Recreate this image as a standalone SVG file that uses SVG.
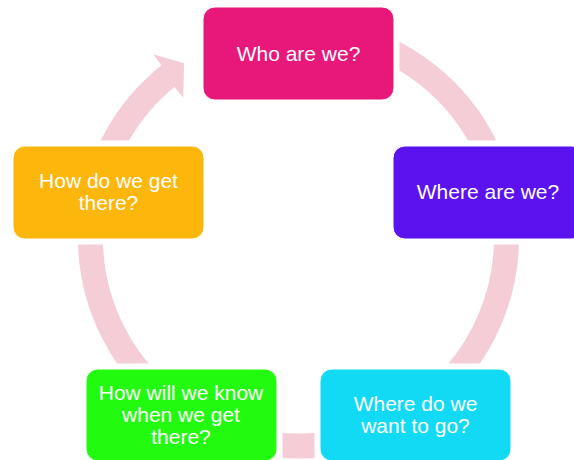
<svg xmlns="http://www.w3.org/2000/svg" width="574" height="460" viewBox="0 0 574 460">
  <style>
    .ring { fill: none; stroke: #F5CDD7; stroke-width: 25; }
    .head { fill: #F5CDD7; stroke: none; }
    .box { stroke: #FFFFFF; stroke-width: 1; }
    .label { font-family: "Liberation Sans", Arial, sans-serif; font-size: 21px; fill: #FFFFFF; text-anchor: middle; }
  </style>
  <defs>
    <!-- keep the ring clear of each box, leaving a small gap -->
    <mask id="ringGap" maskUnits="userSpaceOnUse" x="0" y="0" width="574" height="460">
      <rect x="0" y="0" width="574" height="460" fill="#FFFFFF"/>
      <rect x="197.5" y="1.5" width="202" height="104" fill="#000000"/>
      <rect x="387.5" y="140.5" width="202" height="104" fill="#000000"/>
      <rect x="314.5" y="363.5" width="202" height="104" fill="#000000"/>
      <rect x="80.5" y="363.5" width="202" height="104" fill="#000000"/>
      <rect x="7.5" y="140.5" width="202" height="104" fill="#000000"/>
    </mask>
  </defs>

  <rect x="0" y="0" width="574" height="460" fill="#FFFFFF"/>

  <!-- cycle ring: centre (298.5, 238), radius 208 -->
  <g id="connectors">
    <path class="ring" mask="url(#ringGap)" d="M 334.62 33.16 A 208 208 0 1 1 170.44 74.09"/>
    <polygon class="head" points="161.7,65.7 153.3,54.3 184,63.3 183.3,97.7 175,87.7"/>
  </g>

  <g id="node-who">
    <rect class="box" x="203" y="7" width="191" height="93" rx="12" fill="#E8177A"/>
    <text class="label" x="298.5" y="61">Who are we?</text>
  </g>

  <g id="node-where">
    <rect class="box" x="393" y="146" width="191" height="93" rx="12" fill="#5B12EF"/>
    <text class="label" x="488" y="199">Where are we?</text>
  </g>

  <g id="node-goal">
    <rect class="box" x="320" y="369" width="191" height="92" rx="12" fill="#12DAF5"/>
    <text class="label" x="415.5" y="411">Where do we</text>
    <text class="label" x="415.5" y="433">want to go?</text>
  </g>

  <g id="node-measure">
    <rect class="box" x="86" y="369" width="191" height="92" rx="12" fill="#22FA10"/>
    <text class="label" x="181" y="400">How will we know</text>
    <text class="label" x="181" y="422">when we get</text>
    <text class="label" x="181" y="444">there?</text>
  </g>

  <g id="node-how">
    <rect class="box" x="13" y="146" width="191" height="93" rx="12" fill="#FDB60B"/>
    <text class="label" x="108.5" y="187.5">How do we get</text>
    <text class="label" x="108.5" y="209.5">there?</text>
  </g>
</svg>
